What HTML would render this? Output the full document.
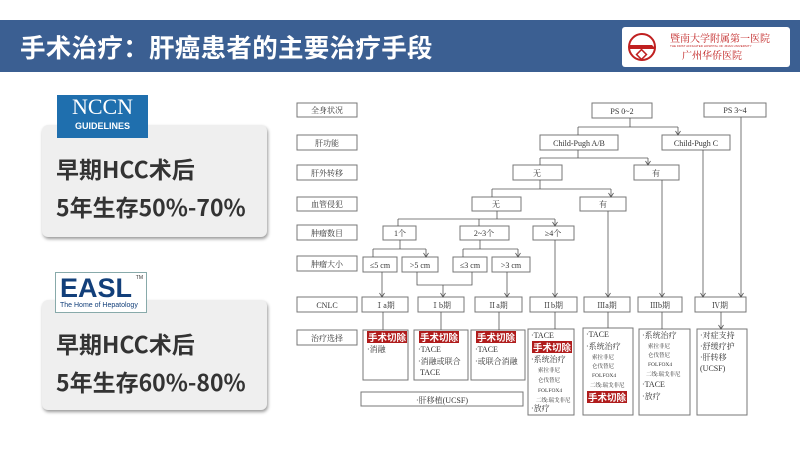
<!DOCTYPE html>
<html><head><meta charset="utf-8"><style>
body{margin:0;width:800px;height:450px;background:#fff;position:relative;overflow:hidden;font-family:"Liberation Sans","Noto Sans CJK SC",sans-serif}
.banner{position:absolute;left:0;top:20px;width:800px;height:52px;background:#3b5f92}
.title{position:absolute;left:20px;top:30px;font-size:25.5px;font-weight:bold;color:#fff;letter-spacing:0.3px;line-height:34px;font-family:"Noto Sans CJK SC",sans-serif}
.logo{position:absolute;left:622px;top:27px;width:168px;height:40px;background:#fff;border-radius:3px}
.panel{position:absolute;left:42px;width:225px;background:#efefef;border-radius:6px;box-shadow:1px 2px 3px #999}
.ptxt{position:absolute;left:14px;font-size:23px;font-weight:bold;color:#333;font-family:"Noto Sans CJK SC",sans-serif;white-space:nowrap}
</style></head><body>
<div class="banner"></div>
<div class="title">手术治疗：肝癌患者的主要治疗手段</div>
<div class="logo">
<svg width="168" height="40">
<circle cx="20" cy="20" r="13" fill="none" stroke="#c02020" stroke-width="2"/>
<path d="M8 18 L30 18 L34 22 L8 22Z" fill="#c02020"/>
<rect x="16" y="24" width="7" height="7" fill="none" stroke="#c02020" stroke-width="1.5" transform="rotate(45 19.5 27.5)"/>
<text x="48" y="15" font-size="10" fill="#c02020" font-family="Noto Serif CJK SC,serif">暨南大学附属第一医院</text>
<text x="48" y="20" font-size="3" fill="#c02020">THE FIRST AFFILIATED HOSPITAL OF JINAN UNIVERSITY</text>
<text x="60" y="32" font-size="10" fill="#c02020" font-family="Noto Serif CJK SC,serif">广州华侨医院</text>
</svg></div>

<div class="panel" style="top:125px;height:112px"><div class="ptxt" style="top:26px">早期HCC术后</div><div class="ptxt" style="top:64px">5年生存50%-70%</div></div>
<div style="position:absolute;left:57px;top:95px;width:91px;height:43px;background:#1f6fae;color:#fff;text-align:center">
<div style="font-family:'Liberation Serif',serif;font-size:22px;line-height:24px">NCCN</div>
<div style="font-size:9px;font-weight:bold;line-height:14px">GUIDELINES</div></div>

<div class="panel" style="top:300px;height:110px"><div class="ptxt" style="top:26px">早期HCC术后</div><div class="ptxt" style="top:64px">5年生存60%-80%</div></div>
<div style="position:absolute;left:55px;top:272px;width:92px;height:41px;background:#fff;border:1px solid #8aa;box-sizing:border-box">
<div style="position:absolute;left:4px;top:0;font-size:27px;font-weight:bold;color:#123f7a;line-height:30px">EASL</div>
<div style="position:absolute;right:3px;top:2px;font-size:5px;color:#333">TM</div>
<div style="position:absolute;left:4px;top:29px;font-size:7px;color:#123f7a">The Home of Hepatology</div></div>

<svg style="position:absolute;left:0;top:0" width="800" height="450" font-family="Liberation Serif,Noto Serif CJK SC,serif" font-size="8" fill="#333">
<defs><marker id="a" markerWidth="6" markerHeight="6" refX="5" refY="3" orient="auto" markerUnits="userSpaceOnUse"><path d="M1 0.5 L5 3 L1 5.5" fill="none" stroke="#555" stroke-width="0.8"/></marker></defs>
<g fill="#fff" stroke="#777" stroke-width="1">
<rect x="297" y="103" width="60" height="14"/><rect x="297" y="135" width="60" height="15"/><rect x="297" y="165" width="60" height="15"/><rect x="297" y="197" width="60" height="14"/><rect x="297" y="225" width="60" height="15"/><rect x="297" y="256" width="60" height="15"/><rect x="297" y="297" width="60" height="15"/><rect x="297" y="330" width="60" height="15"/>
<rect x="592" y="103" width="60" height="15"/><rect x="704" y="103" width="62" height="14"/>
<rect x="540" y="135" width="78" height="15"/><rect x="662" y="135" width="68" height="15"/>
<rect x="513" y="165" width="49" height="15"/><rect x="634" y="165" width="45" height="15"/>
<rect x="472" y="197" width="49" height="14"/><rect x="580" y="197" width="46" height="14"/>
<rect x="383" y="226" width="33" height="14"/><rect x="460" y="226" width="49" height="14"/><rect x="533" y="226" width="41" height="14"/>
<rect x="363" y="257" width="34" height="15"/><rect x="402" y="257" width="36" height="15"/><rect x="453" y="257" width="34" height="15"/><rect x="492" y="257" width="38" height="15"/>
<rect x="362" y="297" width="46" height="15"/><rect x="418" y="297" width="46" height="15"/><rect x="475" y="297" width="47" height="15"/><rect x="530" y="297" width="47" height="15"/><rect x="584" y="297" width="46" height="15"/><rect x="638" y="297" width="44" height="15"/><rect x="695" y="297" width="51" height="15"/>
<rect x="363" y="330" width="45" height="50"/><rect x="414" y="330" width="54" height="50"/><rect x="471" y="330" width="54" height="50"/><rect x="528" y="329" width="46" height="86"/><rect x="583" y="328" width="50" height="87"/><rect x="639" y="329" width="51" height="86"/><rect x="697" y="329" width="50" height="86"/>
<rect x="361" y="392" width="162" height="14"/>
</g>
<g stroke="#555" stroke-width="0.8" fill="none">
<path d="M630 118V127M578 127H678"/><path d="M578 127V135M678 127V135" marker-end="url(#a)"/>
<path d="M578 150V158M540 158H648"/><path d="M540 158V165M648 158V165" marker-end="url(#a)"/>
<path d="M540 180V189M492 189H611"/><path d="M492 189V197M611 189V197" marker-end="url(#a)"/>
<path d="M497 211V219M398 219H555"/><path d="M398 219V226M479 219V226M555 219V226" marker-end="url(#a)"/>
<path d="M400 240V249M373 249H426"/><path d="M373 249V257M426 249V257" marker-end="url(#a)"/>
<path d="M480 240V249M463 249H518"/><path d="M463 249V257M518 249V257" marker-end="url(#a)"/>
<path d="M382 272V297" marker-end="url(#a)"/>
<path d="M417 272V285H472V272"/><path d="M443 285V297" marker-end="url(#a)"/>
<path d="M507 272V297" marker-end="url(#a)"/>
<path d="M555 240V297" marker-end="url(#a)"/>
<path d="M608 211V297" marker-end="url(#a)"/>
<path d="M662 180V297" marker-end="url(#a)"/>
<path d="M703 150V297" marker-end="url(#a)"/>
<path d="M741 117V297" marker-end="url(#a)"/>
<path d="M383 312V330M441 312V330M499 312V330M555 312V329M608 312V328M662 312V329M721 312V329" marker-end="url(#a)"/>
</g>
<g text-anchor="middle">
<text x="327" y="113">全身状况</text><text x="327" y="146">肝功能</text><text x="327" y="176">肝外转移</text><text x="327" y="207">血管侵犯</text><text x="327" y="236">肿瘤数目</text><text x="327" y="267">肿瘤大小</text><text x="327" y="308">CNLC</text><text x="327" y="341">治疗选择</text>
<text x="622" y="114">PS 0~2</text><text x="735" y="113">PS 3~4</text>
<text x="579" y="146">Child-Pugh A/B</text><text x="696" y="146">Child-Pugh C</text>
<text x="537" y="176">无</text><text x="656" y="176">有</text>
<text x="496" y="207">无</text><text x="603" y="207">有</text>
<text x="400" y="236">1个</text><text x="484" y="236">2~3个</text><text x="553" y="236">≥4个</text>
<text x="380" y="268">≤5 cm</text><text x="420" y="268">&gt;5 cm</text><text x="470" y="268">≤3 cm</text><text x="511" y="268">&gt;3 cm</text>
<text x="385" y="308">Ⅰa期</text><text x="441" y="308">Ⅰb期</text><text x="498" y="308">Ⅱa期</text><text x="553" y="308">Ⅱb期</text><text x="607" y="308">Ⅲa期</text><text x="660" y="308">Ⅲb期</text><text x="720" y="308">Ⅳ期</text>
<text x="442" y="403">·肝移植(UCSF)</text>
</g>
<g fill="#b01c1c"><rect x="367" y="331" width="40" height="12"/><rect x="419" y="331" width="40" height="12"/><rect x="476" y="331" width="40" height="12"/><rect x="532" y="341" width="40" height="12"/><rect x="587" y="391" width="40" height="12"/></g>
<g fill="#fff" font-weight="bold" font-size="9.5" font-family="Noto Sans CJK SC,sans-serif"><text x="368" y="341">手术切除</text><text x="420" y="341">手术切除</text><text x="477" y="341">手术切除</text><text x="533" y="351">手术切除</text><text x="588" y="401">手术切除</text></g>
<g font-size="8">
<text x="367" y="352">·消融</text>
<text x="418" y="352">·TACE</text><text x="418" y="364">·消融或联合</text><text x="420" y="375">TACE</text>
<text x="475" y="352">·TACE</text><text x="475" y="364">·或联合消融</text>
<text x="531" y="338">·TACE</text><text x="531" y="362">·系统治疗</text><text x="531" y="411">·放疗</text>
<text x="586" y="337">·TACE</text><text x="586" y="349">·系统治疗</text>
<text x="642" y="338">·系统治疗</text><text x="642" y="387">·TACE</text><text x="642" y="399">·放疗</text>
<text x="700" y="338">·对症支持</text><text x="700" y="349">·舒缓疗护</text><text x="700" y="360">·肝转移</text><text x="700" y="371">(UCSF)</text>
</g>
<g font-size="5.5">
<text x="538" y="372">索拉非尼</text><text x="538" y="382">仑伐替尼</text><text x="538" y="392">FOLFOX4</text><text x="536" y="402">二线:瑞戈非尼</text>
<text x="592" y="359">索拉非尼</text><text x="592" y="368">仑伐替尼</text><text x="592" y="377">FOLFOX4</text><text x="590" y="387">二线:瑞戈非尼</text>
<text x="648" y="348">索拉非尼</text><text x="648" y="357">仑伐替尼</text><text x="648" y="366">FOLFOX4</text><text x="646" y="376">二线:瑞戈非尼</text>
</g>
</svg>
</body></html>
